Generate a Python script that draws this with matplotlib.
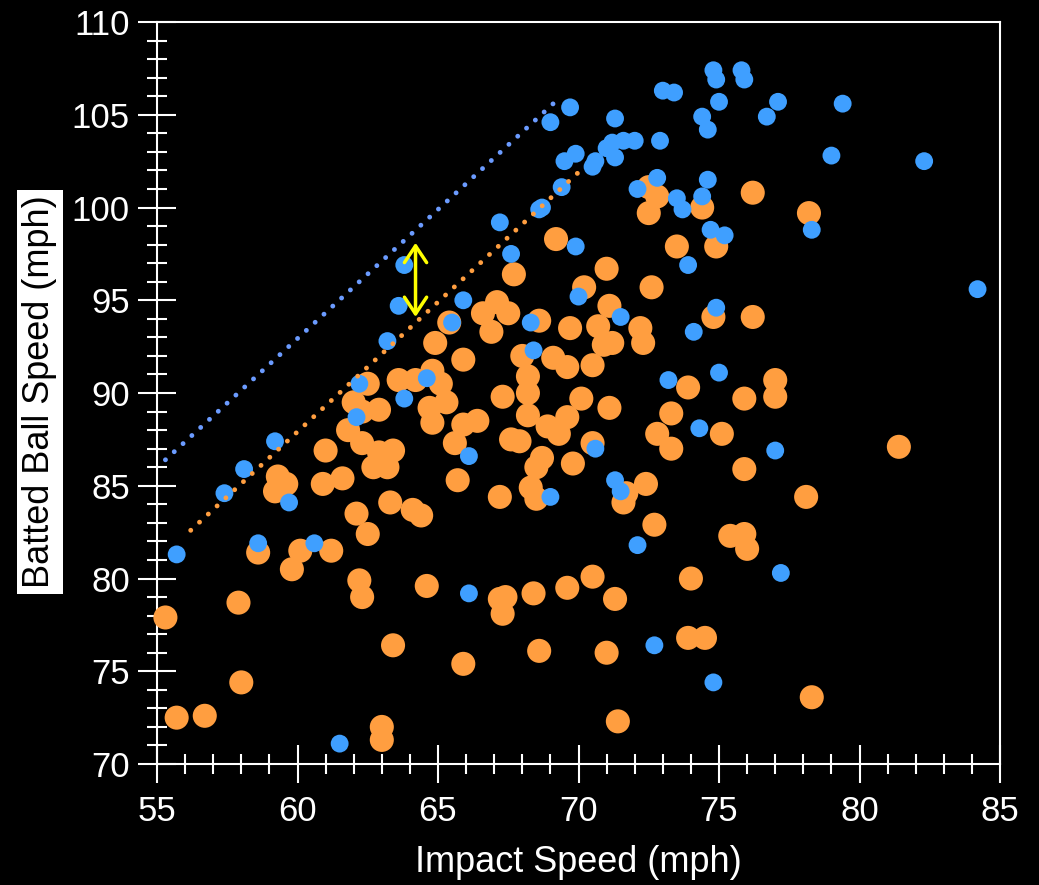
import matplotlib
matplotlib.use("Agg")
import matplotlib.pyplot as plt
from matplotlib.ticker import MultipleLocator

plt.rcParams['font.family'] = ['Liberation Sans', 'DejaVu Sans']

# blue points: impact speed / batted ball speed (mph)
blue_x = [55.7, 57.4, 58.1, 58.6, 59.7, 59.2, 60.6, 62.1, 62.2, 63.2, 63.8, 63.6, 63.8, 64.6,
          65.5, 65.9, 66.1, 66.1, 61.5, 67.2, 67.6, 68.3, 68.4, 68.6, 68.7, 69.0, 69.0, 69.7,
          69.4, 69.5, 69.9, 69.9, 70.0, 70.5, 70.6, 70.6, 71.0, 71.2, 71.3, 71.3, 71.3, 71.5,
          71.5, 71.6, 72.0, 72.1, 72.1, 72.7, 72.8, 72.9, 73.0, 73.4, 73.2, 73.5, 73.7, 73.9,
          74.1, 74.4, 74.6, 74.4, 74.6, 74.3, 74.8, 74.9, 75.0, 74.7, 75.2, 75.8, 75.9, 76.7,
          77.1, 74.8, 74.9, 75.0, 77.0, 77.2, 78.3, 79.0, 79.4, 82.3, 84.2]
blue_y = [81.3, 84.6, 85.9, 81.9, 84.1, 87.4, 81.9, 88.7, 90.5, 92.8, 96.9, 94.7, 89.7, 90.8,
          93.8, 95.0, 86.6, 79.2, 71.1, 99.2, 97.5, 93.8, 92.3, 99.9, 100.0, 84.4, 104.6, 105.4,
          101.1, 102.5, 102.9, 97.9, 95.2, 102.2, 102.5, 87.0, 103.2, 103.5, 102.7, 104.8, 85.3, 94.1,
          84.7, 103.6, 103.6, 101.0, 81.8, 76.4, 101.6, 103.6, 106.3, 106.2, 90.7, 100.5, 99.9, 96.9,
          93.3, 104.9, 104.2, 100.6, 101.5, 88.1, 107.4, 106.9, 105.7, 98.8, 98.5, 107.4, 106.9, 104.9,
          105.7, 74.4, 94.6, 91.1, 86.9, 80.3, 98.8, 102.8, 105.6, 102.5, 95.6]

# orange points
orange_x = [55.3, 55.7, 56.7, 57.9, 58.0, 58.6, 59.3, 59.6, 59.2, 59.8, 60.1, 60.9, 61.2, 61.0,
            61.6, 61.8, 62.1, 62.5, 62.2, 62.3, 62.0, 62.3, 62.9, 62.5, 62.3, 63.4, 62.9, 62.7,
            63.2, 63.6, 64.2, 64.8, 65.1, 65.3, 64.7, 64.8, 65.4, 64.9, 65.9, 65.6, 65.9, 66.4,
            65.7, 67.1, 67.5, 66.6, 66.9, 67.3, 67.6, 67.9, 67.7, 68.0, 68.2, 68.2, 68.2, 68.9,
            69.3, 69.6, 70.1, 69.6, 69.1, 68.6, 69.2, 69.7, 70.7, 71.1, 71.2, 70.5, 70.9, 70.2,
            71.0, 72.2, 72.3, 71.1, 72.6, 73.9, 73.3, 72.8, 73.3, 70.5, 68.7, 68.5, 68.3, 68.5,
            69.8, 71.7, 72.4, 71.6, 72.7, 67.2, 63.3, 64.1, 64.4, 72.5, 72.8, 72.5, 73.5, 74.8,
            76.2, 77.0, 77.0, 75.9, 75.1, 81.4, 75.9, 78.1, 75.4, 75.9, 76.0, 76.2, 78.2, 74.4,
            74.9, 64.6, 63.4, 65.9, 67.2, 67.4, 67.3, 68.4, 69.6, 70.5, 71.3, 68.6, 71.0, 71.4,
            63.0, 63.0, 74.0, 73.9, 74.5, 78.3]
orange_y = [77.9, 72.5, 72.6, 78.7, 74.4, 81.4, 85.5, 85.1, 84.7, 80.5, 81.5, 85.1, 81.5, 86.9,
            85.4, 88.0, 83.5, 82.4, 79.9, 79.0, 89.5, 89.0, 89.1, 90.5, 87.3, 86.9, 86.8, 86.0,
            86.0, 90.7, 90.7, 91.2, 90.5, 89.5, 89.2, 88.4, 93.8, 92.7, 91.8, 87.3, 88.3, 88.5,
            85.3, 94.9, 94.3, 94.3, 93.3, 89.8, 87.5, 87.4, 96.4, 92.0, 90.9, 90.0, 88.8, 88.2,
            87.8, 88.7, 89.7, 91.4, 91.9, 93.9, 98.3, 93.5, 93.6, 94.7, 92.7, 91.5, 92.6, 95.7,
            96.7, 93.5, 92.7, 89.2, 95.7, 90.3, 88.9, 87.8, 87.0, 87.3, 86.5, 86.0, 84.9, 84.3,
            86.2, 84.6, 85.1, 84.1, 82.9, 84.4, 84.1, 83.7, 83.4, 101.1, 100.6, 99.7, 97.9, 94.1,
            94.1, 90.7, 89.8, 89.7, 87.8, 87.1, 85.9, 84.4, 82.3, 82.4, 81.6, 100.8, 99.7, 100.0,
            97.9, 79.6, 76.4, 75.4, 78.9, 79.0, 78.1, 79.2, 79.5, 80.1, 78.9, 76.1, 76.0, 72.3,
            72.0, 71.3, 80.0, 76.8, 76.8, 73.6]

# dotted guide lines (start / end)
blue_line_x = [55.3, 69.1]
blue_line_y = [86.4, 105.6]
orange_line_x = [56.2, 70.0]
orange_line_y = [82.6, 101.9]

# yellow double arrow
arrow_x = 64.2
arrow_y = [94.1, 98.1]

orange = '#FF9E40'
blue = '#3F9FFF'

fig = plt.figure(figsize=(10.39, 8.85), dpi=100, facecolor='black')
ax = fig.add_axes([0.1511, 0.1367, 0.8114, 0.8384])
ax.set_facecolor('black')

ax.scatter(orange_x, orange_y, s=300, color=orange, edgecolors='none', zorder=3, clip_on=False)
ax.scatter(blue_x, blue_y, s=165, color=blue, edgecolors='none', zorder=4, clip_on=False)

ax.plot(blue_line_x, blue_line_y, color='#6B9BFF', lw=3.5, linestyle=(0, (0.01, 2.45)),
        dash_capstyle='round', zorder=5)
ax.plot(orange_line_x, orange_line_y, color=orange, lw=3.5, linestyle=(0, (0.01, 2.45)),
        dash_capstyle='round', zorder=5)

ax.annotate('', xy=(arrow_x, arrow_y[1]), xytext=(arrow_x, arrow_y[0]),
            arrowprops=dict(arrowstyle='<->,head_length=0.6,head_width=0.4', color='#FFFF00',
                            lw=2.5, mutation_scale=20, shrinkA=0, shrinkB=0), zorder=6)

ax.set_xlim(55, 85)
ax.set_ylim(70, 110)
ax.xaxis.set_major_locator(MultipleLocator(5))
ax.xaxis.set_minor_locator(MultipleLocator(1))
ax.yaxis.set_major_locator(MultipleLocator(5))
ax.yaxis.set_minor_locator(MultipleLocator(1))

for side in ['left', 'bottom', 'top', 'right']:
    ax.spines[side].set_color('white')
    ax.spines[side].set_linewidth(1.5)

ax.tick_params(which='major', direction='inout', length=27, width=1.5, colors='white',
               labelsize=25)
ax.tick_params(axis='x', which='major', pad=9)
ax.tick_params(axis='y', which='major', pad=6)
ax.tick_params(which='minor', direction='inout', length=14, width=1.5, colors='white')

ax.set_xlabel('Impact Speed (mph)', fontsize=26, color='white', labelpad=12)
fig.text(40 / 1039, 1 - 392 / 885, 'Batted Ball Speed (mph)', rotation=90, ha='center',
         va='center', fontsize=26, color='black',
         bbox=dict(facecolor='white', edgecolor='none', pad=4))

fig.savefig('out.png', dpi=100, facecolor='black')
